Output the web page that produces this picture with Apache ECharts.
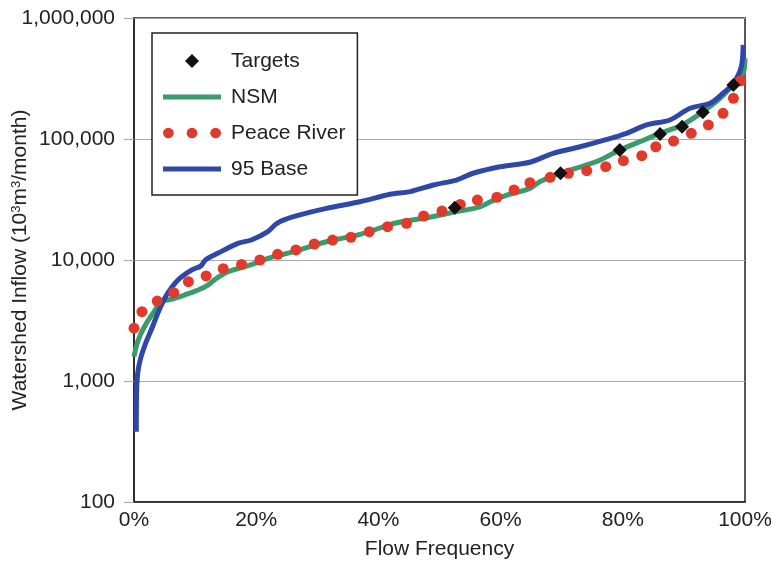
<!DOCTYPE html>
<html>
<head>
<meta charset="utf-8">
<script src="https://cdn.jsdelivr.net/npm/echarts@6/dist/echarts.min.js"></script>
<style>
html,body{margin:0;padding:0;background:#fff;}
#chart{width:771px;height:567px;}
</style>
</head>
<body>
<div id="chart"></div>
<script>
// Flow frequency (%) and watershed inflow (10^3 m^3/month)
const nsmX = [0, 0.7, 1.7, 3.1, 4.5, 6.1, 8.3, 10.5, 12.1, 13.5, 15.4, 18.1, 20.6, 21.9, 26.1, 31.5, 37, 43, 47.4, 52.8, 56.6, 58.3, 61, 64.8, 66.4, 69.7, 74.1, 76.3, 79.5, 82.8, 86.1, 89.7, 93.1, 95.9, 98.1, 99.7, 100];
const nsmY = [1590, 2180, 2810, 3620, 4520, 4730, 5140, 5650, 6210, 7060, 8000, 8810, 9680, 10330, 11720, 14160, 16300, 20300, 22100, 25100, 27500, 30300, 34400, 39100, 44400, 52100, 61000, 67000, 81100, 95100, 111400, 130600, 168000, 217000, 283000, 349000, 464000];

const baseX = [0.38, 0.42, 0.6, 1.1, 1.9, 2.9, 4.1, 5.4, 7.2, 9.4, 10.9, 11.7, 13.7, 17, 19.2, 21.9, 23.4, 26.1, 31.5, 37, 41.9, 45.2, 49, 52.8, 55.5, 59.9, 64.8, 68.6, 73, 77.4, 80.6, 83.9, 87.7, 91, 94.3, 96.4, 98.1, 99.4, 99.7];
const baseY = [381, 780, 1150, 1550, 2050, 2700, 3850, 5200, 6840, 8260, 8900, 10000, 11350, 13740, 14620, 17140, 20100, 22800, 26700, 30300, 34900, 36700, 41700, 45800, 52100, 59000, 64300, 76200, 86300, 99300, 111400, 130600, 143600, 179500, 197200, 238800, 288400, 396300, 600000];

const peaceX = [0, 1.3, 3.8, 6.5, 8.9, 11.8, 14.6, 17.6, 20.6, 23.5, 26.5, 29.5, 32.5, 35.5, 38.5, 41.5, 44.6, 47.4, 50.4, 53.4, 56.2, 59.4, 62.2, 64.8, 68.1, 71.1, 74.1, 77.2, 80.1, 83.1, 85.4, 88.3, 91.2, 94.0, 96.4, 98.1, 99.3];
const peaceY = [2730, 3740, 4580, 5370, 6620, 7380, 8470, 9200, 10000, 11140, 12100, 13560, 14620, 15420, 17140, 18850, 20100, 23100, 25400, 28800, 31300, 33000, 37900, 43500, 48200, 52100, 54700, 59000, 66200, 72800, 86300, 96100, 111400, 130600, 163000, 217000, 303000];

const targetX = [52.5, 69.8, 79.5, 86.1, 89.7, 93.1, 98.1];
const targetY = [27000, 52100, 81100, 110000, 126000, 166000, 279000];

const xTicks = [0, 20, 40, 60, 80, 100];
const yTicks = [100, 1000, 10000, 100000, 1000000];

const zip = (xs, ys) => xs.map((x, i) => [x, ys[i]]);
const FONT = "'Liberation Sans', Arial, Helvetica, sans-serif";
const dotsIcon = 'path://M0,5a5,5 0 1,0 10,0a5,5 0 1,0 -10,0z M22,5a5,5 0 1,0 10,0a5,5 0 1,0 -10,0z M44,5a5,5 0 1,0 10,0a5,5 0 1,0 -10,0z';
const barIcon = 'path://M0,0H58V5H0z';
const diamondIcon = 'path://M6.5,0L13,6.5L6.5,13L0,6.5z';

const chart = echarts.init(document.getElementById('chart'), null, {renderer: 'canvas'});
chart.setOption({
  animation: false,
  backgroundColor: '#ffffff',
  textStyle: {fontFamily: FONT},
  grid: {left: 134, right: 26, top: 18, bottom: 65, containLabel: false, outerBoundsMode: 'none',
    show: true, borderColor: '#222', borderWidth: 1.5, backgroundColor: 'transparent'},
  legend: {
    left: 152, top: 33,
    orient: 'vertical',
    backgroundColor: '#fff',
    borderColor: '#222', borderWidth: 1.5,
    padding: [17, 12, 15, 11],
    itemWidth: 58, itemHeight: 14, itemGap: 14,
    symbolKeepAspect: true,
    textStyle: {fontSize: 21, color: '#222', fontFamily: FONT, lineHeight: 22, padding: [0, 0, 0, 5]},
    data: [
      {name: 'Targets', icon: diamondIcon},
      {name: 'NSM', icon: barIcon},
      {name: 'Peace River', icon: dotsIcon},
      {name: '95 Base', icon: barIcon}
    ]
  },
  xAxis: {
    type: 'value', min: 0, max: 100, interval: 20,
    name: 'Flow Frequency', nameLocation: 'middle', nameGap: 37, nameMoveOverlap: false,
    nameTextStyle: {fontSize: 21, color: '#222', fontFamily: FONT},
    axisLine: {show: true, lineStyle: {color: '#222', width: 1.5}},
    axisTick: {show: false},
    splitLine: {show: false},
    axisLabel: {fontSize: 21, color: '#222', margin: 8, fontFamily: FONT,
      formatter: v => xTicks.includes(v) ? v + '%' : ''}
  },
  yAxis: {
    type: 'log', logBase: 10, min: 100, max: 1000000,
    name: 'Watershed Inflow (10{sup|3}m{sup|3}/month)', nameLocation: 'middle', nameRotate: 90, nameGap: 103,
    nameMoveOverlap: false,
    nameTextStyle: {fontSize: 21, color: '#222', fontFamily: FONT,
      rich: {sup: {fontSize: 13, color: '#222', fontFamily: FONT, verticalAlign: 'top', padding: [0, 0, 8, 0]}}},
    axisLine: {show: true, lineStyle: {color: '#222', width: 1.5}},
    axisTick: {show: true, inside: false, length: 10, lineStyle: {color: '#aaa', width: 1.2}},
    splitLine: {show: true, lineStyle: {color: '#aaa', width: 1.2}},
    axisLabel: {fontSize: 21, color: '#222', margin: 19, fontFamily: FONT,
      formatter: v => yTicks.includes(Math.round(v)) ? Math.round(v).toLocaleString('en-US') : ''}
  },
  series: [
    {
      name: 'NSM', type: 'line', symbol: 'none', smooth: 0.4, z: 2,
      lineStyle: {color: '#3a9b6b', width: 5},
      itemStyle: {color: '#3a9b6b'},
      data: zip(nsmX, nsmY)
    },
    {
      name: '95 Base', type: 'line', symbol: 'none', smooth: 0.3, z: 3,
      lineStyle: {color: '#2f48a8', width: 5},
      itemStyle: {color: '#2f48a8'},
      data: zip(baseX, baseY)
    },
    {
      name: 'Peace River', type: 'scatter', symbol: 'circle', symbolSize: 11, z: 4,
      itemStyle: {color: '#e2392d', opacity: 1},
      data: zip(peaceX, peaceY)
    },
    {
      name: 'Targets', type: 'scatter', symbol: 'diamond', symbolSize: 14, z: 5,
      itemStyle: {color: '#111', opacity: 1},
      data: zip(targetX, targetY)
    }
  ]
});
</script>
</body>
</html>
